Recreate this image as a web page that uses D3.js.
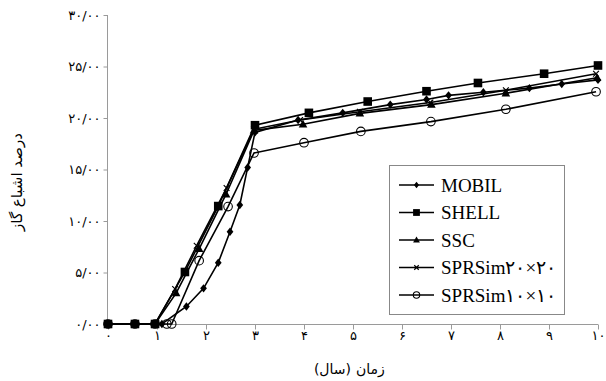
<!DOCTYPE html>
<html><head><meta charset="utf-8">
<script src="https://cdn.jsdelivr.net/npm/d3@7"></script>
<style>body{margin:0;background:#fff}svg{display:block}</style>
</head><body>
<svg id="c" width="606" height="381"></svg>
<script>
const seriesNames = ["MOBIL", "SHELL", "SSC", "SPRSim۲۰×۲۰", "SPRSim۱۰×۱۰"];
const markerTypes = ["diamond", "square", "triangle", "cross", "circle"];
const mobil = [[0,0],[0.55,0],[0.96,0],[1.1,0],[1.6,1.7],[1.95,3.46],[2.25,5.95],[2.49,8.96],[2.69,11.55],[2.85,15.2],[3.0,18.6],[3.88,19.8],[4.79,20.5],[5.76,21.3],[6.5,21.8],[6.95,22.2],[7.66,22.5],[8.6,22.9],[9.26,23.3],[10,23.7]];
const shell = [[0,0],[0.55,0],[0.96,0],[1.57,5.05],[2.25,11.45],[3.0,19.3],[4.1,20.5],[5.3,21.6],[6.5,22.6],[7.55,23.4],[8.9,24.3],[10,25.1]];
const ssc = [[0,0],[0.55,0],[0.96,0],[1.39,3.0],[1.86,7.3],[2.41,12.6],[2.98,18.8],[3.98,19.4],[5.14,20.45],[6.6,21.3],[8.12,22.4],[9.98,23.9]];
const spr20 = [[0,0],[0.55,0],[0.96,0],[1.37,3.4],[1.81,7.6],[2.42,13.2],[2.98,18.9],[3.92,19.8],[5.14,20.6],[6.58,21.5],[8.12,22.7],[9.96,24.3]];
const spr10 = [[0,0],[0.55,0],[0.96,0],[1.2,0],[1.3,0],[1.86,6.15],[2.45,11.4],[2.98,16.6],[4.0,17.6],[5.16,18.7],[6.59,19.65],[8.12,20.85],[9.96,22.55]];
const allSeries = [mobil, shell, ssc, spr20, spr10];
const xTicks = [0,1,2,3,4,5,6,7,8,9,10];
const xTickLabels = ["۰","۱","۲","۳","۴","۵","۶","۷","۸","۹","۱۰"];
const yTicks = [0,5,10,15,20,25,30];
const yTickLabels = ["۰/۰۰","۵/۰۰","۱۰/۰۰","۱۵/۰۰","۲۰/۰۰","۲۵/۰۰","۳۰/۰۰"];
const xTitleWords = ["زمان", "(سال)"];   // read right-to-left: زمان (سال)
const yTitle = "درصد اشباع گاز";

const svg = d3.select("#c");
const x = d3.scaleLinear().domain([0,10]).range([108,598]);
const y = d3.scaleLinear().domain([0,30]).range([324,15]);
const axisColor = "#9a9a9a";
const persianFont = "'DejaVu Sans', sans-serif";

// Y axis
const yAxis = svg.append("g").attr("transform","translate(107.5,0)")
  .call(d3.axisLeft(y).tickValues(yTicks).tickSize(4).tickFormat((d,i)=>yTickLabels[i]));
yAxis.select(".domain").attr("stroke",axisColor).attr("d","M0,"+y(30)+"V"+y(0));
yAxis.selectAll(".tick line").attr("stroke",axisColor);
yAxis.selectAll(".tick text").attr("font-family",persianFont).attr("font-size",13).attr("fill","#000").attr("x",-7);

// X axis
const xAxis = svg.append("g").attr("transform","translate(0,324.5)")
  .call(d3.axisBottom(x).tickValues(xTicks).tickSize(5).tickFormat((d,i)=>xTickLabels[i]));
xAxis.select(".domain").attr("stroke",axisColor).attr("d","M"+x(0)+",0H"+x(10));
xAxis.selectAll(".tick line").attr("stroke",axisColor);
xAxis.selectAll(".tick text").attr("font-family",persianFont).attr("font-size",13).attr("fill","#000").attr("y",6);

// titles (right word first, as Persian reads right-to-left)
const xt = svg.append("g").attr("font-family",persianFont).attr("font-size",14);
xt.append("text").attr("x",356).attr("y",374).attr("text-anchor","start").text(xTitleWords[0]);
xt.append("text").attr("x",351).attr("y",374).attr("text-anchor","end").text(xTitleWords[1]);
svg.append("text").attr("transform","translate(22,182) rotate(-90)").attr("text-anchor","middle")
  .attr("font-family",persianFont).attr("font-size",15).text(yTitle);

function drawMarker(g, type, cx, cy, s) {
  if (type === "diamond") {
    g.append("path").attr("d",`M${cx},${cy-s}L${cx+s*0.8},${cy}L${cx},${cy+s}L${cx-s*0.8},${cy}Z`).attr("fill","#000");
  } else if (type === "square") {
    g.append("rect").attr("x",cx-s).attr("y",cy-s).attr("width",2*s).attr("height",2*s).attr("fill","#000");
  } else if (type === "triangle") {
    g.append("path").attr("d",`M${cx},${cy-s*1.05}L${cx+s},${cy+s*0.75}L${cx-s},${cy+s*0.75}Z`).attr("fill","#000");
  } else if (type === "cross") {
    const r = s*0.8;
    g.append("path").attr("d",`M${cx-r},${cy-r}L${cx+r},${cy+r}M${cx-r},${cy+r}L${cx+r},${cy-r}`).attr("stroke","#000").attr("stroke-width",1.2);
  } else if (type === "circle") {
    g.append("circle").attr("cx",cx).attr("cy",cy).attr("r",s).attr("fill","none").attr("stroke","#000").attr("stroke-width",1.1);
  }
}

const line = d3.line().x(d=>x(d[0])).y(d=>y(d[1]));
const sizes = [4.2, 4.3, 4.3, 3.6, 4.3];
allSeries.forEach((data, i) => {
  const g = svg.append("g");
  g.append("path").datum(data).attr("d",line).attr("fill","none").attr("stroke","#000").attr("stroke-width",1.6);
  data.forEach(d => drawMarker(g, markerTypes[i], x(d[0]), y(d[1]), sizes[i]));
});

// legend
const lg = svg.append("g");
lg.append("rect").attr("x",389.5).attr("y",165.5).attr("width",175).attr("height",149)
  .attr("fill","#fff").attr("stroke","#888").attr("stroke-width",1);
const legSizes = [3.2, 3.4, 3.4, 2.8, 3.2];
seriesNames.forEach((name, i) => {
  const ly = 185 + i*27.5;
  lg.append("line").attr("x1",399).attr("x2",434).attr("y1",ly).attr("y2",ly).attr("stroke","#000").attr("stroke-width",1.4);
  drawMarker(lg, markerTypes[i], 416.5, ly, legSizes[i]);
  lg.append("text").attr("x",441).attr("y",ly).attr("dy","0.35em")
    .attr("font-family","'Liberation Serif', 'DejaVu Serif', serif").attr("font-size",19).text(name);
});
</script>
</body></html>
